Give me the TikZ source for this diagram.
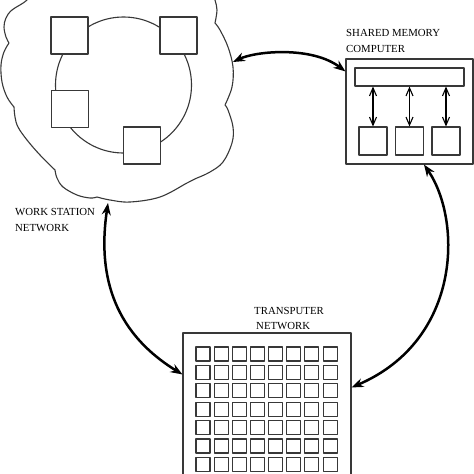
\documentclass[tikz,border=0pt]{standalone}
\usepackage{fontspec}
\setmainfont{Liberation Serif}
\usetikzlibrary{arrows.meta,calc}
\begin{document}
\begin{tikzpicture}[x=1pt,y=-1pt,line join=round,
  thinline/.style={draw=black!78,line width=1.1pt},
  sq/.style={thinline,fill=white,inner sep=0pt,minimum size=#1},
  rbox/.style={thinline,fill=white,inner sep=0pt,minimum width=#1},
  lab/.style={anchor=base west,inner sep=0pt,font=\fontsize{10.8pt}{13pt}\selectfont},
  link/.style={line width=2.5pt,{Stealth[length=12pt,width=9pt,inset=4pt]}-{Stealth[length=12pt,width=9pt,inset=4pt]}},
  bus/.style={line width=1.1pt,{Straight Barb[length=8pt,width=7pt]}-{Straight Barb[length=8pt,width=7pt]}}]
\useasboundingbox (0,0) rectangle (474,474);
\clip (0,0) rectangle (474,474);
\fill[white] (0,0) rectangle (474,474);

% ---- work station network (cloud) ----
\draw[thinline]
  plot[smooth,tension=0.6] coordinates {(33,-12) (27,0) (12,10) (6,18) (4,27) (6,37) (9,43)}
  -- plot[smooth,tension=0.6] coordinates {(9,43) (4,52) (1,65) (2,82) (7,97) (14,107)}
  -- plot[smooth,tension=0.6] coordinates {(14,107) (15,117) (18,127) (27,140) (40,155) (55,170)}
  -- plot[smooth,tension=0.6] coordinates {(55,170) (57,178) (63,187) (77,195) (90,198) (97,197)}
  -- plot[smooth,tension=0.6] coordinates {(97,197) (110,200) (130,202) (160,197) (187,183) (197,178)}
  -- plot[smooth,tension=0.6] coordinates {(197,178) (210,172) (223,162) (232,143) (233,127) (228,110) (225,105)}
  -- plot[smooth,tension=0.6] coordinates {(225,105) (232,87) (233,67) (228,47) (220,30) (215,23)}
  -- plot[smooth,tension=0.6] coordinates {(215,23) (217,10) (215,0) (212,-12)};
\coordinate (wsE) at (233,62);
\coordinate (wsS) at (108,203);
\draw[thinline] (123.5,85) circle[radius=68];
\node[sq=37pt] (w1) at (69.5,35.5) {};
\node[sq=37pt] (w2) at (178.5,35.5) {};
\node[sq=37pt] (w3) at (70,109) {};
\node[sq=37pt] (w4) at (142,145.5) {};
\node[lab] (wsA) at (15,215) {WORK STATION};
\node[lab] (wsB) at (15,231) {NETWORK};

% ---- shared memory computer ----
\node[rbox=127pt,minimum height=105pt] (sm) at (409.5,111.5) {};
\node[rbox=109pt,minimum height=18pt] (bar) at (409.5,77) {};
\node[sq=28pt] (p1) at (373,141) {};
\node[sq=28pt] (p2) at (409.5,141) {};
\node[sq=28pt] (p3) at (446,141) {};
\foreach \p in {p1,p2,p3}
  \draw[bus] (\p.north |- bar.south) -- (\p.north);
\node[lab] (smA) at (346,36) {SHARED MEMORY};
\node[lab] (smB) at (346,52) {COMPUTER};

% ---- transputer network ----
\node[rbox=168pt,minimum height=170pt] (tp) at (267,418) {};
\foreach \i in {0,...,7}
  \foreach \j in {0,...,7}
    \node[sq=14pt] (t\i\j) at (203+18.15*\i,354+18.4*\j) {};
\node[lab] (tpA) at (254,314) {TRANSPUTER};
\node[lab] (tpB) at (256,329) {NETWORK};

% ---- connections ----
\draw[link] (wsE) .. controls (256,51) and (312,46) .. ($(sm.north west)+(0,13)$);
\draw[link] ($(sm.south)+(14.5,0)$) .. controls (462,220) and (462,340) .. ($(tp.north east)+(0,55)$);
\draw[link] (wsS) .. controls (98,270) and (110,330) .. ($(tp.north west)+(0,42)$);
\end{tikzpicture}
\end{document}
